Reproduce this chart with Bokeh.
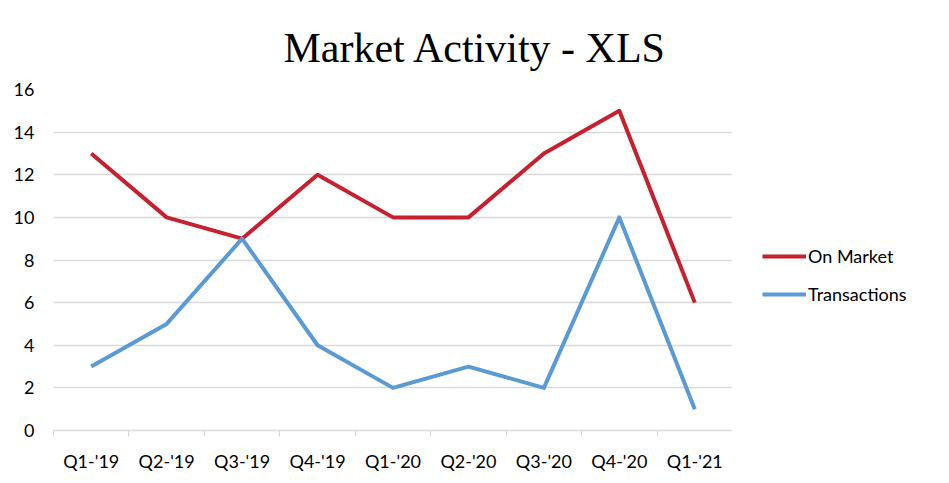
from bokeh.plotting import figure
from bokeh.layouts import row
from bokeh.models import FixedTicker, Legend, LegendItem, ColumnDataSource
from bokeh.embed import file_html
from bokeh.resources import INLINE

quarters = ["Q1-'19", "Q2-'19", "Q3-'19", "Q4-'19", "Q1-'20", "Q2-'20", "Q3-'20", "Q4-'20", "Q1-'21"]
on_market = [13, 10, 9, 12, 10, 10, 13, 15, 6]
transactions = [3, 5, 9, 4, 2, 3, 2, 10, 1]
y_ticks = [0, 2, 4, 6, 8, 10, 12, 14, 16]
series_names = ["On Market", "Transactions"]
series_colors = ["#C8202F", "#5B9BD5"]

xs = list(range(len(quarters)))
src = ColumnDataSource(dict(x=xs, on_market=on_market, transactions=transactions))

p = figure(width=732, height=483, output_backend="svg", toolbar_location=None,
           x_range=(-0.5, len(quarters) - 0.5), y_range=(0, 16),
           min_border_left=53, min_border_right=0, min_border_top=89, min_border_bottom=53)
p.outline_line_color = None
p.background_fill_color = "white"
p.border_fill_color = "white"

p.title.text = "Market Activity - XLS"
p.title.text_font = "Liberation Serif"
p.title.text_font_size = "42px"
p.title.text_font_style = "normal"
p.title.text_color = "#000000"
p.title.align = "left"
p.title.offset = 230
p.title.standoff = 38

# x axis
p.xaxis.ticker = FixedTicker(ticks=xs, minor_ticks=[i - 0.5 for i in range(len(quarters) + 1)])
p.xaxis.major_label_overrides = {i: q for i, q in enumerate(quarters)}
p.xaxis.major_tick_line_color = None
p.xaxis.major_tick_out = 0
p.xaxis.major_tick_in = 0
p.xaxis.minor_tick_line_color = "#d9d9d9"
p.xaxis.minor_tick_out = 6
p.xaxis.minor_tick_in = 0
p.xaxis.axis_line_color = "#d9d9d9"
p.xaxis.axis_line_width = 1.5
p.xaxis.major_label_text_font = "Lato"
p.xaxis.major_label_text_font_size = "18px"
p.xaxis.major_label_text_color = "#000000"
p.xaxis.major_label_standoff = 13
p.xgrid.grid_line_color = None

# y axis
p.yaxis.ticker = FixedTicker(ticks=y_ticks)
p.yaxis.axis_line_color = None
p.yaxis.major_tick_line_color = None
p.yaxis.major_tick_out = 0
p.yaxis.major_tick_in = 0
p.yaxis.minor_tick_line_color = None
p.yaxis.major_label_text_font = "Lato"
p.yaxis.major_label_text_font_size = "18px"
p.yaxis.major_label_text_color = "#000000"
p.yaxis.major_label_standoff = 19
p.ygrid.grid_line_color = "#d9d9d9"
p.ygrid.grid_line_width = 1.5

p.line("x", "on_market", source=src, line_color=series_colors[0], line_width=4, line_join="round")
p.line("x", "transactions", source=src, line_color=series_colors[1], line_width=4, line_join="round")

# legend panel (same series, drawn outside this panel's visible range; only the legend shows)
q = figure(width=217, height=483, output_backend="svg", toolbar_location=None,
           x_range=(0, 1), y_range=(-1000, -999),
           min_border_left=0, min_border_right=0, min_border_top=0, min_border_bottom=0)
q.axis.visible = False
q.grid.grid_line_color = None
q.outline_line_color = None
q.background_fill_color = "white"
q.border_fill_color = "white"
items = []
for name, col, field in zip(series_names, series_colors, ["on_market", "transactions"]):
    r = q.line("x", field, source=src, line_color=col, line_width=4)
    items.append(LegendItem(label=name, renderers=[r]))

legend = Legend(items=items, location=(30, 125), orientation="vertical",
                glyph_width=44, glyph_height=20, label_height=20, spacing=16,
                label_standoff=2, padding=0, margin=0,
                border_line_color=None, background_fill_alpha=0,
                label_text_font="Lato", label_text_font_size="18px", label_text_color="#000000")
q.add_layout(legend)

layout = row(p, q, spacing=0)
open("out.html", "w").write(file_html(layout, INLINE))
